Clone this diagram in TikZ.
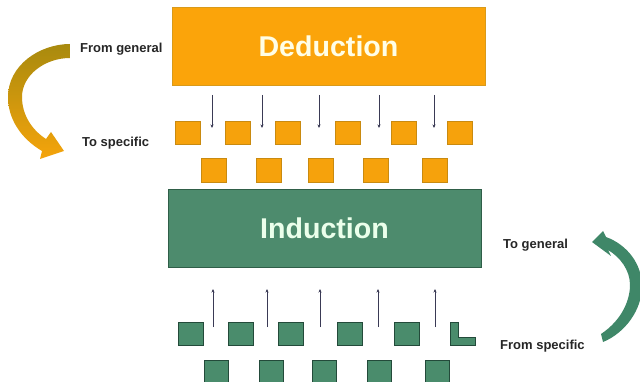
\documentclass[tikz,border=0pt]{standalone}
\usepackage{fontspec}
\setmainfont{Liberation Sans}
\usetikzlibrary{arrows.meta}
\definecolor{dedfill}{HTML}{FBA40A}
\definecolor{dedline}{HTML}{D99A1A}
\definecolor{sqofill}{HTML}{F6A20C}
\definecolor{sqoline}{HTML}{C98A10}
\definecolor{indfill}{HTML}{4D8B6D}
\definecolor{indline}{HTML}{2F5E48}
\definecolor{sqgfill}{HTML}{4A8C6C}
\definecolor{sqgline}{HTML}{234A3A}
\definecolor{arrowc}{HTML}{3A3A55}
\definecolor{goldtop}{HTML}{A88A0E}
\definecolor{goldbot}{HTML}{F5A40C}
\definecolor{greenarr}{HTML}{3F8768}
\tikzset{
  bigbox/.style={draw, line width=0.8pt, inner sep=0pt, minimum width=313pt, minimum height=78pt},
  boxtext/.style={font=\fontsize{28.6}{30}\selectfont\bfseries},
  sqo/.style={draw=sqoline, fill=sqofill, line width=0.6pt, minimum width=25pt, minimum height=23pt, inner sep=0pt},
  sqg/.style={draw=sqgline, fill=sqgfill, line width=0.8pt, minimum width=25pt, minimum height=23pt, inner sep=0pt},
  lbl/.style={font=\fontsize{13}{14}\selectfont\bfseries, text=black!85, inner sep=0pt},
  thinarrow/.style={draw=arrowc, line width=0.8pt, -{Stealth[length=3.5pt,width=3pt]}}
}
\begin{document}
\begin{tikzpicture}[x=1pt,y=-1pt]
\useasboundingbox (0,0) rectangle (640,382);
\fill[white] (0,0) rectangle (640,382);

% main boxes
\node[bigbox, draw=dedline, fill=dedfill] (ded) at (328.5,46) {};
\node[boxtext, text=white!90!yellow] (dedt) at (ded.center) {Deduction};
\node[bigbox, draw=indline, fill=indfill] (ind) at (324.5,228) {};
\node[boxtext, text=white!92!green] (indt) at (ind.center) {Induction};

% orange squares
\foreach \x [count=\i] in {187.5,238,288,347.5,404,459.5}
  \node[sqo] (ou\i) at (\x,132.5) {};
\foreach \x [count=\i] in {213.5,269,320.5,375.5,434.5}
  \node[sqo, minimum height=24pt] (ol\i) at (\x,170) {};

% down arrows
\foreach \x [count=\i] in {212,262,319,379,434} {
  \coordinate (da\i) at (\x,95);
  \coordinate (db\i) at (\x,128);
  \draw[thinarrow] (da\i) -- (db\i);
}

% green squares
\foreach \x [count=\i] in {190.5,241,291,350,407}
  \node[sqg] (gu\i) at (\x,333.5) {};
\foreach \x [count=\i] in {216.5,271.5,324,379.5,437}
  \node[sqg, minimum width=24pt, minimum height=24pt] (gl\i) at (\x,372) {};
% partial L-shaped square
\filldraw[draw=sqgline, fill=sqgfill, line width=0.8pt]
  (450,322) -- (458,322) -- (458,337) -- (475,337) -- (475,345) -- (450,345) -- cycle;

% up arrows
\foreach \x [count=\i] in {213,267,320,378,435} {
  \coordinate (ua\i) at (\x,327);
  \coordinate (ub\i) at (\x,289);
  \draw[thinarrow] (ua\i) -- (ub\i);
}

% left labels
\node[lbl, anchor=west] (fg) at (80,49) {From general};
\node[lbl, anchor=west] (ts) at (82,143) {To specific};
% right labels
\node[lbl, anchor=west] (tg) at (503,245) {To general};
\node[lbl, anchor=west] (fs) at (500,346) {From specific};

% gold curved arrow
\shade[top color=goldtop, bottom color=goldbot]
  (70,44) -- (70,58)
  .. controls (45,58) and (22,75) .. (22,97)
  .. controls (22,115) and (32,130) .. (46,139)
  -- (51,132) -- (64,151) -- (40,159) -- (42,151)
  .. controls (20,138) and (8,118) .. (8,97)
  .. controls (8,65) and (40,44) .. (70,44) -- cycle;

% green curved arrow
\fill[greenarr]
  (601,334)
  .. controls (622,320) and (630,300) .. (630,285)
  .. controls (630,270) and (620,257) .. (608,250)
  -- (611,256) -- (592,242) -- (603,231) -- (606,237)
  .. controls (628,245) and (642,265) .. (642,286)
  .. controls (642,310) and (625,333) .. (603,342) -- cycle;
\end{tikzpicture}
\end{document}
